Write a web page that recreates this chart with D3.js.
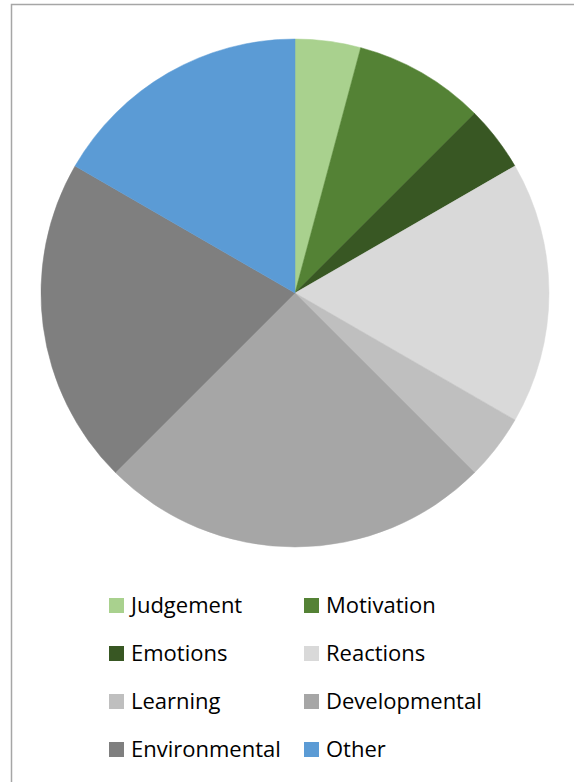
<!DOCTYPE html>
<html>
<head>
<meta charset="utf-8">
<script src="https://cdn.jsdelivr.net/npm/d3@7"></script>
<style>
  body { margin: 0; background: #fff; }
  svg { display: block; }
</style>
</head>
<body>
<div id="chart"></div>
<script>
const width = 574
const height = 782

// slices, clockwise from 12 o'clock
const categories = ["Judgement", "Motivation", "Emotions", "Reactions", "Learning", "Developmental", "Environmental", "Other"]
const values = [1, 2, 1, 4, 1, 6, 5, 4]
const colors = ["#a9d18e", "#548235", "#385723", "#d9d9d9", "#bfbfbf", "#a6a6a6", "#7f7f7f", "#5b9bd5"]

const data = categories.map((c, i) => ({ name: c, value: values[i] }))
const color = d3.scaleOrdinal(categories, colors)

const svg = d3.select("#chart")
              .append("svg")
              .attr("width", width)
              .attr("height", height)

// chart frame (runs off the right / bottom edge)
svg.append("rect")
   .attr("x", 11.5)
   .attr("y", 4.5)
   .attr("width", width)
   .attr("height", height)
   .attr("fill", "none")
   .attr("stroke", "#a6a6a6")
   .attr("stroke-width", 1.5)

const pie = d3.pie()
              .value(d => d.value)
              .sort(null)

const arc = d3.arc()
              .innerRadius(0)
              .outerRadius(254)

const g = svg.append("g")
             .attr("transform", "translate(295,293)")

g.selectAll("path")
 .data(pie(data))
 .enter()
 .append("path")
 .attr("d", arc)
 .attr("fill", d => color(d.data.name))
 .attr("stroke", d => color(d.data.name))
 .attr("stroke-width", 0.5)

//Legend
const legend = svg.append("g")

const item = legend.selectAll("g")
                   .data(categories)
                   .enter()
                   .append("g")
                   .attr("transform", (d, i) => "translate(" + (i % 2 ? 304 : 109) + "," + (598 + 48 * Math.floor(i / 2)) + ")")

item.append("rect")
    .attr("width", 15)
    .attr("height", 15)
    .attr("fill", d => color(d))

item.append("text")
    .attr("x", 22)
    .attr("y", 14.5)
    .style("font-family", "'Open Sans', sans-serif")
    .style("font-size", "22px")
    .style("fill", "#000")
    .text(d => d)
</script>
</body>
</html>
